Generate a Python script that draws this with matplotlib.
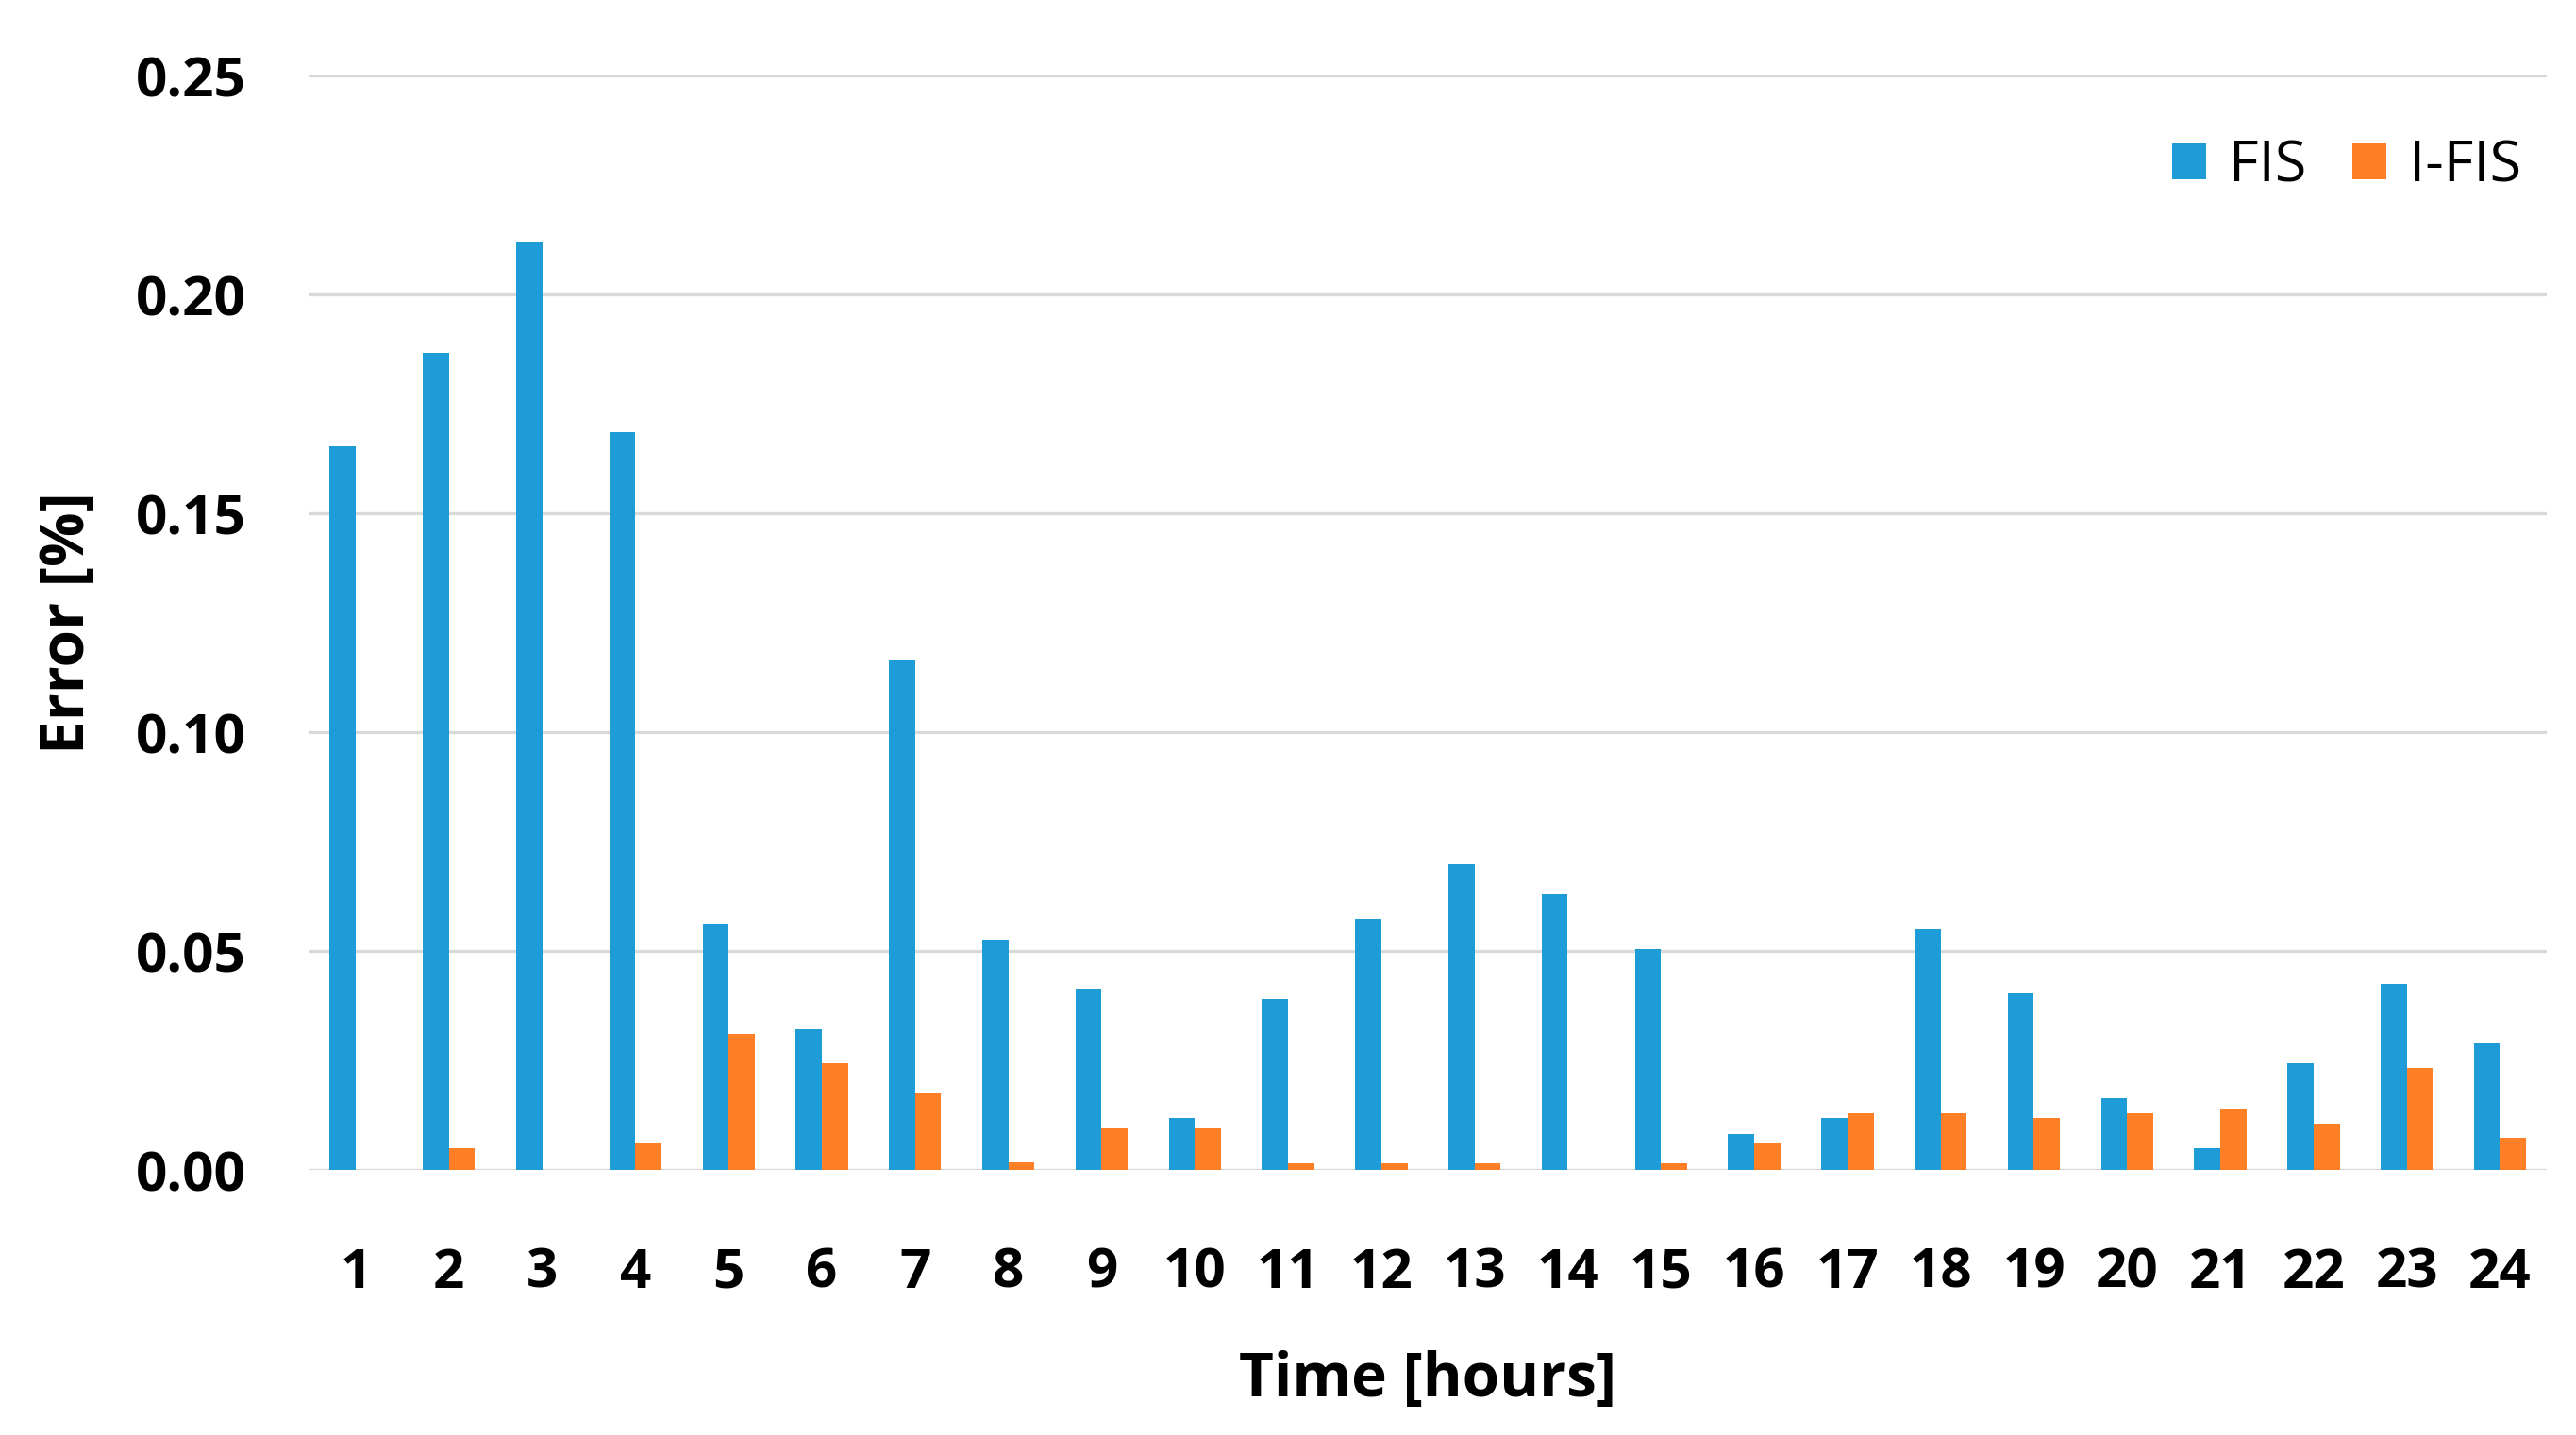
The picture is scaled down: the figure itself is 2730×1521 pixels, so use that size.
import matplotlib.pyplot as plt
import numpy as np

hours = list(range(1, 25))
fis = [0.1653, 0.1867, 0.2118, 0.1686, 0.0562, 0.0322, 0.1163, 0.0527,
       0.0414, 0.0119, 0.0391, 0.0573, 0.0699, 0.0630, 0.0505, 0.0083,
       0.0118, 0.0550, 0.0403, 0.0163, 0.0050, 0.0243, 0.0425, 0.0288]
ifis = [0.0, 0.0050, 0.0, 0.0062, 0.0311, 0.0243, 0.0175, 0.0017,
        0.0095, 0.0095, 0.0016, 0.0016, 0.0016, 0.0, 0.0016, 0.0061,
        0.0129, 0.0129, 0.0118, 0.0129, 0.0141, 0.0106, 0.0232, 0.0073]
yticks = [0.00, 0.05, 0.10, 0.15, 0.20, 0.25]

plt.rcParams['font.family'] = ['Open Sans', 'DejaVu Sans']

fig = plt.figure(figsize=(27.3, 15.21), dpi=100)
ax = fig.add_axes([0.120, 0.1847, 0.8686, 0.7627])

x = np.array(hours)
w = 0.28
ax.bar(x - w / 2, fis, width=w, color='#1E9CD8', label='FIS', zorder=3)
ax.bar(x + w / 2, ifis, width=w, color='#FF7F27', label='I-FIS', zorder=3)

ax.set_xlim(0.5, 24.5)
ax.set_ylim(0, 0.25)
ax.set_yticks(yticks)
ax.set_yticklabels([f"{v:.2f}" for v in yticks])
ax.set_xticks(hours)
ax.grid(axis='y', color='#d9d9d9', linewidth=2.4, zorder=0)
for s in ax.spines.values():
    s.set_visible(False)
ax.tick_params(length=0)
ax.tick_params(axis='y', pad=48, labelsize=42)
ax.tick_params(axis='x', pad=58, labelsize=42)
for lab in ax.get_xticklabels() + ax.get_yticklabels():
    lab.set_fontweight('bold')

ax.set_xlabel('Time [hours]', fontsize=46, fontweight='bold', labelpad=38)
ax.set_ylabel('Error [%]', fontsize=46, fontweight='bold', labelpad=28)

ax.legend(loc='upper right', ncol=2, frameon=False, fontsize=44,
          handlelength=0.58, handleheight=0.58, handletextpad=0.4,
          columnspacing=0.8, bbox_to_anchor=(1.012, 0.99))

fig.savefig('out.png', dpi=100, facecolor='white')
